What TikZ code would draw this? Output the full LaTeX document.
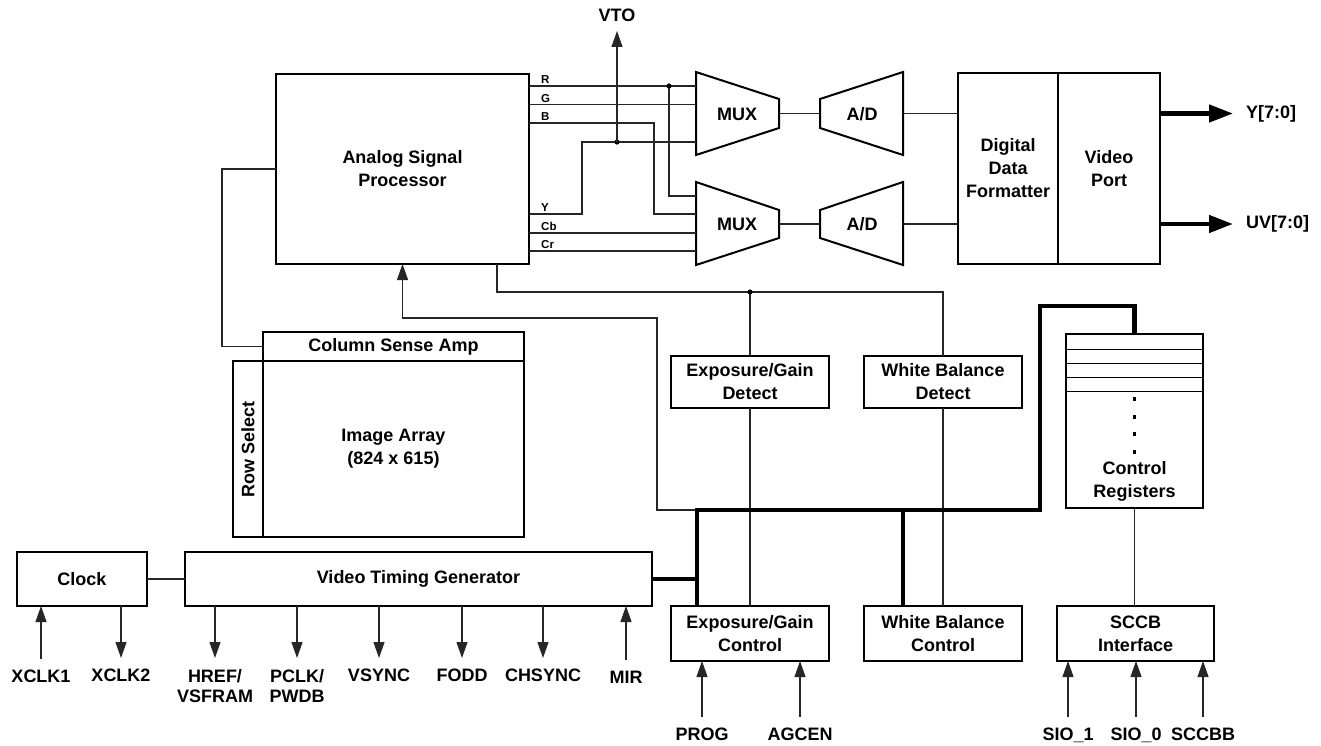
\documentclass[tikz,border=0pt]{standalone}
\usepackage{fontspec}
\setmainfont{Liberation Sans}
\usetikzlibrary{arrows.meta,calc}
\begin{document}
\begin{tikzpicture}[x=1pt,y=-1pt,
  box/.style={draw,line width=2pt,inner sep=0pt,outer sep=0pt,align=center,font=\bfseries\fontsize{18}{23}\selectfont},
  txt/.style={inner sep=0pt,align=center,font=\bfseries\fontsize{18}{23}\selectfont},
  lab/.style={inner sep=0pt,outer ysep=11pt,align=center,font=\bfseries\fontsize{18}{20}\selectfont},
  small/.style={inner sep=0pt,font=\bfseries\fontsize{11.5}{12}\selectfont},
  sig/.style={line width=1.1pt,draw=black!85},
  bus/.style={line width=4.5pt},
  trap/.style={draw,line width=2pt,line join=miter},
  arrin/.style={sig,-{Triangle[length=16pt,width=11pt]}},
  bigarr/.style={line width=4.5pt,-{Triangle[length=24pt,width=17pt]}},
  dot/.style={fill=black}]
\useasboundingbox (0,0) rectangle (1321,746);

% ---------- main boxes ----------
\node[box,minimum width=253pt,minimum height=190pt] (asp) at (402.5,169) {Analog Signal\\Processor};
\node[box,minimum width=261pt,minimum height=29pt] (csa) at (393.5,346.5) {Column Sense Amp};
\node[box,minimum width=261pt,minimum height=176pt] (ia) at (393.5,449) {Image Array\\(824 x 615)};
\node[box,minimum width=30pt,minimum height=176pt] (rs) at (248,449) {};
\node[txt,rotate=90] (rst) at (rs) {Row Select};
\node[box,minimum width=100pt,minimum height=191pt] (ddf) at (1008,168.5) {Digital\\Data\\Formatter};
\node[box,minimum width=102pt,minimum height=191pt] (vp) at (1109,168.5) {Video\\Port};
\node[box,minimum width=158pt,minimum height=52pt] (egd) at (750,382) {Exposure/Gain\\Detect};
\node[box,minimum width=158pt,minimum height=52pt] (wbd) at (943,382) {White Balance\\Detect};
\node[box,minimum width=137pt,minimum height=174pt] (cr) at (1134.5,421) {};
\node[txt] (crt) at (1134.5,481.5) {Control\\Registers};
\node[box,minimum width=130pt,minimum height=54pt] (clock) at (82,579) {Clock};
\node[box,minimum width=467pt,minimum height=54pt] (vtg) at (418.5,579) {Video Timing Generator};
\node[box,minimum width=158pt,minimum height=55pt] (egc) at (750,633.5) {Exposure/Gain\\Control};
\node[box,minimum width=158pt,minimum height=55pt] (wbc) at (943,633.5) {White Balance\\Control};
\node[box,minimum width=157pt,minimum height=55pt] (sccb) at (1135.5,633.5) {SCCB\\Interface};

% control register rows and dots
\foreach \yy in {349,363,377,391}
  \draw[line width=1pt] (cr.west |- 0,\yy) -- (cr.east |- 0,\yy);
\foreach \yy in {399,417,434,452}
  \fill (cr.north |- 0,\yy) ++(-1.8,-1.8) rectangle ++(3.6,3.6);

% ---------- MUX and A/D ----------
\coordinate (m1tl) at (696,72);  \coordinate (m1tr) at (779,99);
\coordinate (m1br) at (779,128); \coordinate (m1bl) at (696,155);
\draw[trap] (m1tl) -- (m1tr) -- (m1br) -- (m1bl) -- cycle;
\node[txt] (mux1) at (737,114) {MUX};
\coordinate (m2tl) at (696,182); \coordinate (m2tr) at (779,210);
\coordinate (m2br) at (779,238); \coordinate (m2bl) at (696,265);
\draw[trap] (m2tl) -- (m2tr) -- (m2br) -- (m2bl) -- cycle;
\node[txt] (mux2) at (737,224) {MUX};
\coordinate (a1tl) at (820,99);  \coordinate (a1tr) at (903,72);
\coordinate (a1br) at (903,155); \coordinate (a1bl) at (820,128);
\draw[trap] (a1tl) -- (a1tr) -- (a1br) -- (a1bl) -- cycle;
\node[txt] (ad1) at (862,114) {A/D};
\coordinate (a2tl) at (820,210); \coordinate (a2tr) at (903,182);
\coordinate (a2br) at (903,265); \coordinate (a2bl) at (820,238);
\draw[trap] (a2tl) -- (a2tr) -- (a2br) -- (a2bl) -- cycle;
\node[txt] (ad2) at (862,224) {A/D};

\coordinate (m1o) at (779,113.5); \coordinate (a1i) at (820,113.5); \coordinate (a1o) at (903,113.5);
\coordinate (m2o) at (779,224);   \coordinate (a2i) at (820,224);   \coordinate (a2o) at (903,224);
\draw[sig] (m1o) -- (a1i);
\draw[sig] (a1o) -- (ddf.west |- a1o);
\draw[sig] (m2o) -- (a2i);
\draw[sig] (a2o) -- (ddf.west |- a2o);

% outputs
\coordinate (yo) at (1233,113.5);
\coordinate (uvo) at (1233,224);
\draw[bigarr] (vp.east |- yo) -- (yo);
\draw[bigarr] (vp.east |- uvo) -- (uvo);
\node[txt,anchor=west] (ylab) at (1246,113.5) {Y[7:0]};
\node[txt,anchor=west] (uvlab) at (1246,224) {UV[7:0]};

% ---------- ASP outputs ----------
\coordinate (pR)  at ($(asp.north east)+(0,12)$);
\coordinate (pG)  at ($(asp.north east)+(0,30.5)$);
\coordinate (pB)  at ($(asp.north east)+(0,49)$);
\coordinate (pY)  at ($(asp.north east)+(0,140)$);
\coordinate (pCb) at ($(asp.north east)+(0,159)$);
\coordinate (pCr) at ($(asp.north east)+(0,177)$);
\foreach \p/\t in {pR/R,pG/G,pB/B,pY/Y,pCb/Cb,pCr/Cr}
  \node[small,anchor=south west] (l\p) at ($(\p)+(12,-2)$) {\t};

\coordinate (m1a) at (696,86);  \coordinate (m1b) at (696,104.5); \coordinate (m1c) at (696,142);
\coordinate (m2a) at (696,196); \coordinate (m2b) at (696,214);   \coordinate (m2c) at (696,233); \coordinate (m2d) at (696,251);
\coordinate (j3) at (669,86);
\coordinate (j2) at (617,142);

\draw[sig] (pR) -- (m1a);
\draw[sig] (j3) |- (m2a);
\fill (j3) circle (2.6pt);
\draw[sig] (pG) -- (m1b);
\draw[sig] (pB) -- ($(pB)+(125,0)$) |- (m2b);
\draw[sig] (pY) -- ($(pY)+(53,0)$) |- (m1c);
\fill (j2) circle (2.6pt);
\draw[sig] (pCb) -- (m2c);
\draw[sig] (pCr) -- (m2d);

% VTO
\node[txt,anchor=south,outer ysep=9pt] (vto) at (617,31) {VTO};
\draw[arrin] (j2) -- (vto.south);

% ---------- left connection ----------
\draw[sig] (asp.west) -- ++(-54,0) |- (csa.west);

% ---------- ASP bottom to detectors ----------
\coordinate (j1) at (750,292);
\draw[sig] ($(asp.south east)+(-32,0)$) |- (j1) -| (wbd.north);
\draw[sig] (j1) -- (egd.north);
\fill (j1) circle (2.6pt);
\draw[sig] (egd.south) -- (egc.north);
\draw[sig] (wbd.south) -- (wbc.north);
\draw[sig] (cr.south) -- (cr.south |- sccb.north);

% ---------- bus ----------
\coordinate (busA) at (697,510);
\coordinate (busB) at (903,510);
\coordinate (busC) at (1040,510);
\coordinate (busD) at (1040,306);
\coordinate (k1) at (657,318);
\draw[arrin] (busA) -- (busA -| k1) -- (k1) -| (asp.south);
\draw[bus] (vtg.east) -- (vtg.east -| busA);
\draw[bus] (egc.north -| busA) -- (busA) -- (busC) -- (busD) -| (cr.north);
\draw[bus] (busB) -- (busB |- wbc.north);

% ---------- clock and timing ----------
\draw[sig] (clock.east) -- (vtg.west);

\node[lab,anchor=north] (xclk1) at (41,659) {XCLK1};
\draw[arrin] (xclk1.north) -- (xclk1.north |- clock.south);
\node[lab,anchor=north] (xclk2) at (121,658) {XCLK2};
\draw[arrin] (xclk2.north |- clock.south) -- (xclk2.north);

\foreach \n/\x/\t in {href/215/{HREF/\\VSFRAM},pclk/297/{PCLK/\\PWDB},vsync/379/VSYNC,fodd/462/FODD,chsync/543/CHSYNC}{
  \node[lab,anchor=north] (\n) at (\x,658) {\t};
  \draw[arrin] (\n.north |- vtg.south) -- (\n.north);
}
\node[lab,anchor=north] (mir) at (626,660) {MIR};
\draw[arrin] (mir.north) -- (mir.north |- vtg.south);

% ---------- bottom inputs ----------
\node[lab,anchor=north] (prog) at (702,717) {PROG};
\draw[arrin] (prog.north) -- (prog.north |- egc.south);
\node[lab,anchor=north] (agcen) at (800,717) {AGCEN};
\draw[arrin] (agcen.north) -- (agcen.north |- egc.south);
\node[lab,anchor=north] (sio1) at (1068,717) {SIO\_1};
\draw[arrin] (sio1.north) -- (sio1.north |- sccb.south);
\node[lab,anchor=north] (sio0) at (1136,717) {SIO\_0};
\draw[arrin] (sio0.north) -- (sio0.north |- sccb.south);
\node[lab,anchor=north] (sccbb) at (1203,717) {SCCBB};
\draw[arrin] (sccbb.north) -- (sccbb.north |- sccb.south);
\end{tikzpicture}
\end{document}
